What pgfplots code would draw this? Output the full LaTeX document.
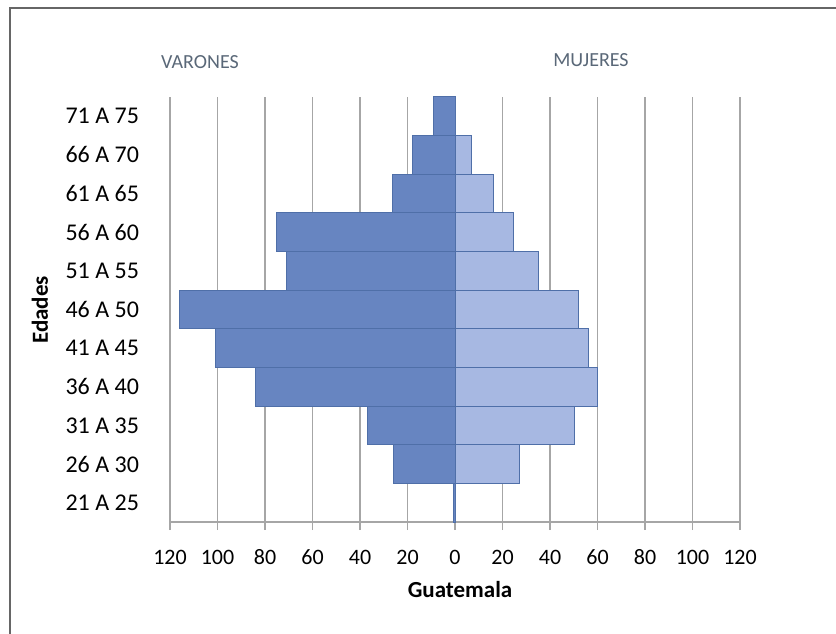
\documentclass[border=0pt]{standalone}
\usepackage{pgfplots}
\pgfplotsset{compat=1.18}
\usepackage{fontspec}
\setmainfont{Carlito}
\definecolor{male}{HTML}{6785C1}
\definecolor{female}{HTML}{A7B8E2}
\definecolor{barline}{HTML}{4F6FA8}
\definecolor{gridc}{HTML}{A6A6A6}
\definecolor{titc}{HTML}{5A6878}
\begin{document}
\begin{tikzpicture}
\path[use as bounding box] (-85pt,-55.5pt) rectangle (333pt,261pt);
\draw[gray!80!black, line width=1pt] (-80pt,-56pt) -- (-80pt,257pt) -- (334pt,257pt);
\begin{axis}[
  at={(0,0)}, anchor=south west,
  scale only axis, width=285pt, height=212.5pt,
  xmin=-120, xmax=120, ymin=-0.5, ymax=10.5,
  xtick={-120,-100,-80,-60,-40,-20,0,20,40,60,80,100,120},
  xticklabels={120,100,80,60,40,20,0,20,40,60,80,100,120},
  ytick={0,1,2,3,4,5,6,7,8,9,10},
  yticklabels={21 A 25,26 A 30,31 A 35,36 A 40,41 A 45,46 A 50,51 A 55,56 A 60,61 A 65,66 A 70,71 A 75},
  /pgf/number format/assume math mode=true,
  xticklabel style={font=\fontsize{11}{12}\selectfont, text height=1.4ex, text depth=0.2ex, yshift=-7pt},
  yticklabel style={font=\fontsize{12}{13}\selectfont, xshift=-8pt},
  axis x line*=bottom, axis y line*=left,
  x axis line style={gridc, line width=0.6pt},
  y axis line style={draw=none},
  xtick style={gridc, line width=0.6pt}, tick align=outside, major tick length=4pt,
  ytick style={draw=none},
  xmajorgrids, grid style={gridc, line width=0.6pt},
  xbar, bar width=19.32pt, bar shift=0pt,
  clip=false,
]
\addplot[fill=male, draw=barline, line width=0.5pt] coordinates {
(-0.8,0) (-26,1) (-37,2) (-84,3) (-101,4) (-116,5) (-71,6) (-75,7) (-26.5,8) (-18,9) (-9,10)};
\addplot[fill=female, draw=barline, line width=0.5pt] coordinates {
(0,0) (27,1) (50.5,2) (60,3) (56,4) (52,5) (35,6) (24.5,7) (16,8) (7,9) (0,10)};
\end{axis}
\node[font=\fontsize{10}{12}\selectfont, text=titc] at (15pt,230pt) {VARONES};
\node[font=\fontsize{10}{12}\selectfont, text=titc] at (210.5pt,231pt) {MUJERES};
\node[font=\bfseries\fontsize{11.5}{14}\selectfont, rotate=90] at (-65pt,106pt) {Edades};
\node[font=\bfseries\fontsize{11.5}{14}\selectfont] at (145pt,-34pt) {Guatemala};
\end{tikzpicture}
\end{document}
